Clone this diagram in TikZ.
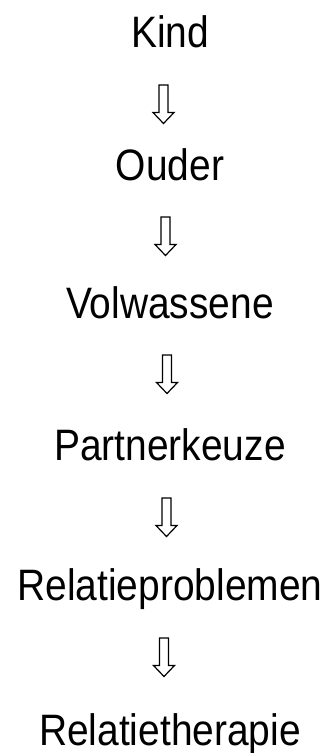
\documentclass[tikz,border=0pt]{standalone}
\usepackage{fontspec}
\setmainfont{Liberation Sans}[FakeStretch=0.885]
\begin{document}
\begin{tikzpicture}[x=1pt,y=1pt,
  stage/.style={anchor=base,inner sep=0pt,font=\fontsize{44}{52}\selectfont},
  hollowarrow/.style={draw=black,line width=1.2pt,line join=miter,fill=white},
  downarrow/.pic={
    \path[hollowarrow] (-4.5,0) -- (-4.5,-27.5) -- (-10.5,-27.5) -- (0,-38.5)
      -- (10.5,-27.5) -- (4.5,-27.5) -- (4.5,0) -- cycle;
  }]
  \useasboundingbox (0,0) rectangle (327,-753);
  \fill[white] (0,0) rectangle (327,-753);

  % stages, top to bottom
  \node[stage] (kind)   at (170,-47)  {Kind};
  \node[stage] (ouder)  at (170,-180) {Ouder};
  \node[stage] (volw)   at (170,-318) {Volwassene};
  \node[stage] (keuze)  at (170,-460) {Partnerkeuze};
  \node[stage] (probl)  at (170,-600) {Relatieproblemen};
  \node[stage] (ther)   at (170,-745) {Relatietherapie};

  % hollow down arrows between the stages
  \pic (a1) at (163.5,-85)  {downarrow};
  \pic (a2) at (165.5,-217) {downarrow};
  \pic (a3) at (167,-355)   {downarrow};
  \pic (a4) at (166.5,-498) {downarrow};
  \pic (a5) at (164,-638)   {downarrow};
\end{tikzpicture}
\end{document}
